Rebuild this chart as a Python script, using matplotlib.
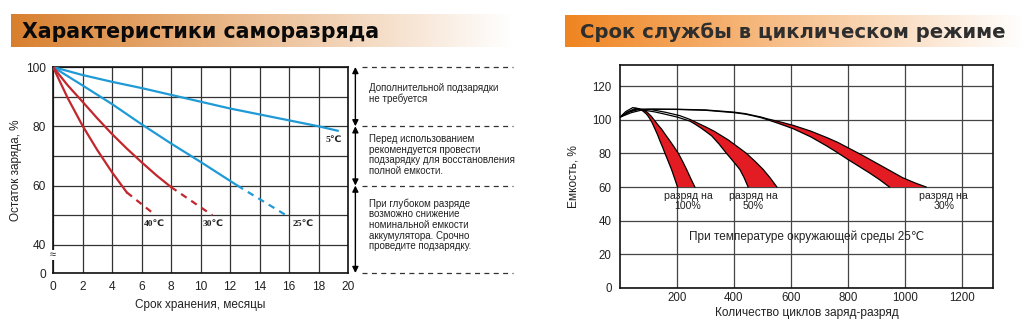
import numpy as np
import matplotlib
matplotlib.use('Agg')
import matplotlib.pyplot as plt

plt.rcParams['font.family'] = ['Liberation Sans', 'DejaVu Sans']

# ---- self-discharge data (months, % charge left) ----
m5 = [0, 2, 4, 6, 8, 10, 12, 14, 16, 18, 19.3]
c5 = [100, 97.3, 95, 92.9, 90.6, 88.3, 86, 84, 82, 80, 78.5]
m25 = [0, 2, 4, 6, 8, 10, 12, 12.5]
c25 = [100, 93.8, 87.5, 80.7, 74.2, 68, 61.6, 60]
m25_dash = [12.5, 15.8]
c25_dash = [60, 50]
m30 = [0, 1, 2, 3, 4, 5, 6, 7, 8]
c30 = [100, 93.8, 88.3, 82.7, 77.4, 72.5, 67.9, 63.5, 59.5]
m30_dash = [8, 10.8]
c30_dash = [59.5, 50]
m40 = [0, 1, 2, 3, 4, 5]
c40 = [100, 89.5, 80.2, 72, 64.5, 57.7]
m40_dash = [5, 6.7]
c40_dash = [57.7, 51]

# ---- cycle life data (cycles, % capacity) ----
a_cyc = [0, 20, 45, 65, 80, 92, 100, 112, 123, 132, 140, 150, 158, 170, 181, 192, 202]
a_cap = [101.5, 104.8, 107.2, 106.6, 105.2, 103.5, 101.8, 98.5, 94.4, 91, 87.5, 83.5, 80, 75,
         70.4, 65, 60]
b_cyc = [0, 30, 60, 80, 95, 110, 120, 133, 146, 160, 175, 190, 205, 220, 234, 248, 263]
b_cap = [101.5, 104.6, 106.4, 105.8, 104.5, 102, 99.8, 97, 94.4, 91, 87.5, 83.8, 80, 75.2,
         70.4, 65.2, 60]
c_cyc = [0, 25, 55, 85, 120, 150, 200, 245, 265, 285, 303, 322, 348, 374, 398, 421, 436, 450]
c_cap = [101.5, 104.5, 106.8, 105.6, 104.7, 103.6, 101.6, 99.2, 97.2, 95, 92.8, 90.4, 85.5, 80,
         75.2, 70.4, 65.5, 60]
d_cyc = [0, 35, 70, 110, 160, 210, 245, 270, 300, 330, 357, 380, 400, 422, 444, 474, 503, 528, 551]
d_cap = [101.5, 104.8, 106.3, 106, 104.4, 102.4, 100.2, 98.2, 95.8, 93.2, 90.4, 88, 85.5, 82.8,
         80, 75.3, 70.4, 65.3, 60]
e_cyc = [0, 30, 60, 100, 200, 300, 400, 440, 470, 495, 520, 560, 609, 670, 726, 765, 800, 845,
         888, 940, 993, 1035, 1075]
e_cap = [101.5, 104.6, 106, 106.3, 106.2, 105.8, 104.5, 103.6, 102.5, 101.6, 100.4, 98.8, 96.6,
         93.2, 89.4, 86.5, 83.4, 79.4, 75.4, 70.5, 65.5, 62.5, 60]
g_cyc = [0, 40, 80, 120, 200, 300, 400, 440, 470, 495, 520, 560, 609, 670, 726, 765, 800, 840,
         876, 912, 946]
g_cap = [101.5, 104.2, 105.9, 106.2, 106.1, 105.6, 104.2, 103.3, 102.2, 101.2, 99.9, 97.6, 94.6,
         89.8, 84.4, 80.3, 76.4, 72.2, 68.4, 64.3, 60]
bands = [(a_cyc, a_cap, b_cyc, b_cap, 80), (c_cyc, c_cap, d_cyc, d_cap, 245),
         (g_cyc, g_cap, e_cyc, e_cap, 520)]
band_labels = ['разряд на\n100%', 'разряд на\n50%', 'разряд на\n30%']
band_label_x = [239, 467, 1137]

blue = '#1f9ad6'
red = '#c1272d'

fig = plt.figure(figsize=(10.24, 3.22), dpi=100)


def banner(rect, rgb, text, tx, color, size):
    bax = fig.add_axes(rect)
    t = np.linspace(0, 1, 300)
    img = np.zeros((1, 300, 3))
    for i in range(3):
        img[0, :, i] = rgb[i] + (1 - rgb[i]) * t
    bax.imshow(img, aspect='auto', extent=(0, 1, 0, 1))
    bax.set_xlim(0, 1)
    bax.set_ylim(0, 1)
    bax.axis('off')
    fig.text(tx, rect[1] + rect[3] / 2 - 0.004, text, fontsize=size, fontweight='bold',
             family='DejaVu Sans', color=color, va='center', ha='left')


banner([11 / 1024, 1 - 47 / 322, 501 / 1024, 33 / 322], (0.85, 0.50, 0.18),
       'Характеристики саморазряда', 22 / 1024, '#0a0a0a', 14.8)
banner([565 / 1024, 1 - 47 / 322, 459 / 1024, 32 / 322], (0.94, 0.52, 0.13),
       'Срок службы в циклическом режиме', 580 / 1024, '#2e2e2e', 14.1)

# ================= left chart =================
ax = fig.add_axes([53 / 1024, 1 - 273 / 322, 295 / 1024, 206 / 322])
ax.set_xlim(0, 20)
ax.set_ylim(30.5, 100)
ax.set_xticks(range(0, 21, 2))
ax.set_yticks([30.5, 40, 50, 60, 70, 80, 90, 100])
ax.set_yticklabels(['0', '40', '', '60', '', '80', '', '100'])
ax.tick_params(length=0, labelsize=8.6, colors='#222222')
ax.tick_params(axis='x', pad=6)
ax.tick_params(axis='y', pad=5)
ax.grid(True, color='#333333', lw=0.9)
for s in ax.spines.values():
    s.set_color('#111111')
    s.set_linewidth(1.2)

ax.plot(m5, c5, color=blue, lw=1.6, zorder=3)
ax.plot(m25, c25, color=blue, lw=1.6, zorder=3)
ax.plot(m25_dash, c25_dash, color=blue, lw=1.6, ls=(0, (3, 2.5)), zorder=3)
ax.plot(m30, c30, color=red, lw=1.6, zorder=3)
ax.plot(m30_dash, c30_dash, color=red, lw=1.6, ls=(0, (3, 2.5)), zorder=3)
ax.plot(m40, c40, color=red, lw=1.6, zorder=3)
ax.plot(m40_dash, c40_dash, color=red, lw=1.6, ls=(0, (3, 2.5)), zorder=3)

for x, y, s in [(19.0, 75.3, '5'), (6.9, 47.1, '40'), (10.85, 47.1, '30'), (16.95, 47.1, '25')]:
    ax.text(x, y, s + '℃', fontsize=6.8, fontweight='bold', ha='center', va='center',
            family=['Liberation Serif', 'DejaVu Sans'], color='#222222')

# axis break mark
ax.text(0, 36.6, '≈', fontsize=8, ha='center', va='center', color='#222222',
        bbox=dict(fc='white', ec='none', pad=0.2), clip_on=False, zorder=5)

ax.set_xlabel('Срок хранения, месяцы', fontsize=8.5, labelpad=4, color='#222222')
ax.set_ylabel('Остаток заряда, %', fontsize=8.5, labelpad=3, color='#222222')

# side notes
for y in [100, 80, 60, 30.5]:
    ax.plot([20.95, 31.2], [y, y], color='#333333', lw=0.9, ls=(0, (4, 3.5)), clip_on=False)
for y0, y1 in [(100, 80), (80, 60), (60, 30.5)]:
    ax.annotate('', xy=(20.5, y0), xytext=(20.5, y1), annotation_clip=False,
                arrowprops=dict(arrowstyle='<|-|>', color='black', lw=1, mutation_scale=9,
                                shrinkA=0, shrinkB=0))
notes = ['Дополнительной подзарядки\nне требуется',
         'Перед использованием\nрекомендуется провести\nподзарядку для восстановления\nполной емкости.',
         'При глубоком разряде\nвозможно снижение\nноминальной емкости\nаккумулятора. Срочно\nпроведите подзарядку.']
for y, s in zip([94.5, 77.4, 55.7], notes):
    ax.text(21.4, y, s, fontsize=7.0, va='top', ha='left', linespacing=1.08,
            color='#222222', clip_on=False)

# ================= right chart =================
ax2 = fig.add_axes([620 / 1024, 1 - 288 / 322, 373 / 1024, 223 / 322])
ax2.set_xlim(0, 1310)
ax2.set_ylim(0, 132.5)
ax2.set_xticks(range(200, 1201, 200))
ax2.set_yticks(range(0, 121, 20))
ax2.tick_params(length=0, labelsize=8.3, colors='#222222')
ax2.tick_params(axis='x', pad=3)
ax2.tick_params(axis='y', pad=6)
ax2.grid(True, color='#444444', lw=0.9)
for s in ax2.spines.values():
    s.set_color('#111111')
    s.set_linewidth(1.2)

for lc, lv, rc, rv, start in bands:
    lc = np.array(lc)
    lv = np.array(lv)
    rc = np.array(rc)
    rv = np.array(rv)
    poly_x = np.concatenate([lc[lc >= start], rc[rc >= start][::-1]])
    poly_y = np.concatenate([lv[lc >= start], rv[rc >= start][::-1]])
    ax2.fill(poly_x, poly_y, color='#e31b23', lw=0, zorder=3)
    ax2.plot(lc, lv, color='black', lw=0.9, zorder=4)
    ax2.plot(rc, rv, color='black', lw=0.9, zorder=4)

for x, s in zip(band_label_x, band_labels):
    ax2.text(x, 51.5, s, fontsize=7.6, ha='center', va='center', linespacing=1.0,
             color='#222222', zorder=5)
ax2.text(656, 30.6, 'При температуре окружающей среды 25℃', fontsize=8.5, ha='center',
         va='center', color='#222222', zorder=5)

ax2.set_xlabel('Количество циклов заряд-разряд', fontsize=8.6, labelpad=2, color='#222222')
ax2.set_ylabel('Емкость, %', fontsize=8.6, labelpad=9, color='#222222')

fig.savefig('out.png', dpi=100)
